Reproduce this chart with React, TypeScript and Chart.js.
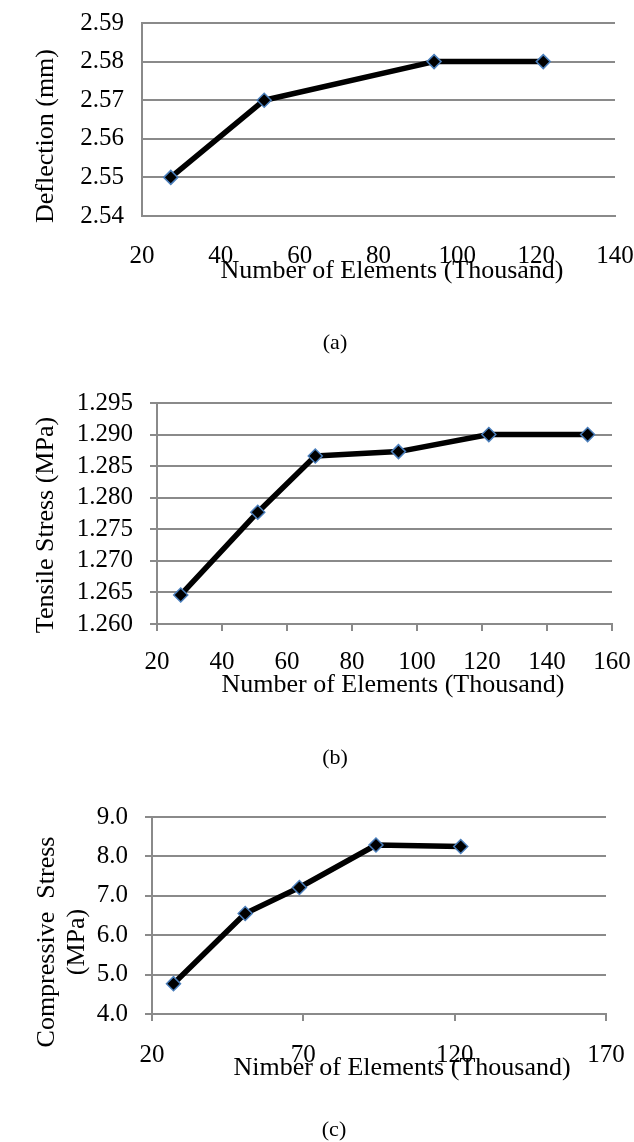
import React, { useEffect, useRef } from "react";
import { Chart, registerables } from "chart.js";

Chart.register(...registerables);

const FONT = "'Liberation Serif', 'Times New Roman', serif";
const GRID = "#8a8a8a";

// ---- Panel (a): Deflection ----
const aElements = [27.3, 51.0, 94.1, 121.8];
const aDeflection = [2.55, 2.57, 2.58, 2.58];
const aXTicks = [20, 40, 60, 80, 100, 120, 140];
const aYTicks = [2.54, 2.55, 2.56, 2.57, 2.58, 2.59];

// ---- Panel (b): Tensile stress ----
const bElements = [27.3, 51.0, 68.7, 94.3, 122.1, 152.5];
const bTensile = [1.2646, 1.2777, 1.2866, 1.2873, 1.29, 1.29];
const bXTicks = [20, 40, 60, 80, 100, 120, 140, 160];
const bYTicks = [1.26, 1.265, 1.27, 1.275, 1.28, 1.285, 1.29, 1.295];

// ---- Panel (c): Compressive stress ----
const cElements = [27.1, 50.8, 68.7, 94.0, 122.0];
const cCompressive = [4.77, 6.55, 7.21, 8.29, 8.25];
const cXTicks = [20, 70, 120, 170];
const cYTicks = [4, 5, 6, 7, 8, 9];

type TextItem = { text: string; x: number; y: number; size: number; rotate?: boolean };

type Panel = {
  xs: number[];
  ys: number[];
  xTicks: number[];
  yTicks: number[];
  decimals: number;
  canvasTop: number;
  canvasHeight: number;
  area: { top: number; bottom: number; left: number; right: number };
  tickLen: number;
  xPad: number;
  yPad: number;
  texts: TextItem[];
};

const panels: Panel[] = [
  {
    xs: aElements,
    ys: aDeflection,
    xTicks: aXTicks,
    yTicks: aYTicks,
    decimals: 2,
    canvasTop: 0,
    canvasHeight: 380,
    area: { top: 23, bottom: 216, left: 142, right: 615 },
    tickLen: 0,
    xPad: 25,
    yPad: 18,
    texts: [
      { text: "Number of Elements (Thousand)", x: 392, y: 278, size: 26 },
      { text: "Deflection (mm)", x: 53, y: 136, size: 26, rotate: true },
      { text: "(a)", x: 335, y: 349, size: 22 },
    ],
  },
  {
    xs: bElements,
    ys: bTensile,
    xTicks: bXTicks,
    yTicks: bYTicks,
    decimals: 3,
    canvasTop: 380,
    canvasHeight: 400,
    area: { top: 23, bottom: 244, left: 157, right: 612 },
    tickLen: 7,
    xPad: 16,
    yPad: 17,
    texts: [
      { text: "Number of Elements (Thousand)", x: 393, y: 312, size: 26 },
      { text: "Tensile Stress (MPa)", x: 53, y: 145, size: 26, rotate: true },
      { text: "(b)", x: 335, y: 384, size: 22 },
    ],
  },
  {
    xs: cElements,
    ys: cCompressive,
    xTicks: cXTicks,
    yTicks: cYTicks,
    decimals: 1,
    canvasTop: 780,
    canvasHeight: 362,
    area: { top: 37, bottom: 234, left: 152, right: 606 },
    tickLen: 7,
    xPad: 19,
    yPad: 17,
    texts: [
      { text: "Nimber of Elements (Thousand)", x: 402, y: 295, size: 26 },
      { text: "Compressive  Stress", x: 54, y: 162, size: 26, rotate: true },
      { text: "(MPa)", x: 84, y: 162, size: 26, rotate: true },
      { text: "(c)", x: 334, y: 356, size: 22 },
    ],
  },
];

const textPlugin = {
  id: "panelText",
  afterDraw(chart: any, _args: any, opts: any) {
    const ctx = chart.ctx as CanvasRenderingContext2D;
    const items: TextItem[] = opts.items || [];
    for (const t of items) {
      ctx.save();
      ctx.font = `${t.size}px ${FONT}`;
      ctx.fillStyle = "#000";
      ctx.textAlign = "center";
      ctx.textBaseline = "alphabetic";
      ctx.translate(t.x, t.y);
      if (t.rotate) ctx.rotate(-Math.PI / 2);
      ctx.fillText(t.text, 0, 0);
      ctx.restore();
    }
  },
};

function PanelChart({ p }: { p: Panel }) {
  const ref = useRef<HTMLCanvasElement | null>(null);
  useEffect(() => {
    if (!ref.current) return;
    const W = 634;
    const chart = new Chart(ref.current, {
      type: "line",
      data: {
        datasets: [
          {
            data: p.xs.map((x, i) => ({ x, y: p.ys[i] })),
            borderColor: "#000",
            borderWidth: 5.5,
            borderJoinStyle: "round",
            borderCapStyle: "round",
            tension: 0,
            pointStyle: "rectRot",
            pointRadius: 7,
            pointBorderWidth: 1.5,
            pointBorderColor: "#4a7ebb",
            pointBackgroundColor: "#000",
          },
        ],
      },
      plugins: [textPlugin],
      options: {
        animation: false,
        responsive: false,
        devicePixelRatio: 1,
        layout: {
          padding: {
            top: p.area.top,
            left: 0,
            right: W - p.area.right,
            bottom: 0,
          },
        },
        plugins: {
          legend: { display: false },
          tooltip: { enabled: false },
          panelText: { items: p.texts },
        } as any,
        scales: {
          x: {
            type: "linear",
            min: p.xTicks[0],
            max: p.xTicks[p.xTicks.length - 1],
            afterBuildTicks: (s: any) => {
              s.ticks = p.xTicks.map((v) => ({ value: v }));
            },
            afterFit: (s: any) => {
              s.height = p.canvasHeight - p.area.bottom;
              s.paddingLeft = 0;
              s.paddingRight = 0;
              s.paddingTop = 0;
              s.paddingBottom = 0;
            },
            grid: {
              drawOnChartArea: false,
              drawTicks: p.tickLen > 0,
              tickLength: p.tickLen,
              color: GRID,
              tickColor: GRID,
              lineWidth: 2,
            },
            border: { display: true, color: GRID, width: 2 },
            ticks: {
              autoSkip: false,
              maxRotation: 0,
              minRotation: 0,
              padding: p.xPad,
              color: "#000",
              font: { family: FONT, size: 25 },
              callback: (v: any) => String(v),
            },
          },
          y: {
            type: "linear",
            min: p.yTicks[0],
            max: p.yTicks[p.yTicks.length - 1],
            afterBuildTicks: (s: any) => {
              s.ticks = p.yTicks.map((v) => ({ value: v }));
            },
            afterFit: (s: any) => {
              s.width = p.area.left;
              s.paddingLeft = 0;
              s.paddingRight = 0;
              s.paddingTop = 0;
              s.paddingBottom = 0;
            },
            grid: {
              drawTicks: p.tickLen > 0,
              tickLength: p.tickLen,
              color: GRID,
              tickColor: GRID,
              lineWidth: 2,
            },
            border: { display: true, color: GRID, width: 2 },
            ticks: {
              autoSkip: false,
              padding: p.yPad,
              color: "#000",
              font: { family: FONT, size: 25 },
              callback: (v: any) => Number(v).toFixed(p.decimals),
            },
          },
        },
      } as any,
    });
    return () => chart.destroy();
  }, [p]);
  return (
    <canvas
      ref={ref}
      width={634}
      height={p.canvasHeight}
      style={{ position: "absolute", left: 0, top: p.canvasTop, display: "block" }}
    />
  );
}

export default function App() {
  return (
    <div
      style={{
        position: "absolute",
        left: 0,
        top: 0,
        width: 634,
        height: 1142,
        background: "#fff",
      }}
    >
      {panels.map((p, i) => (
        <PanelChart key={i} p={p} />
      ))}
    </div>
  );
}
